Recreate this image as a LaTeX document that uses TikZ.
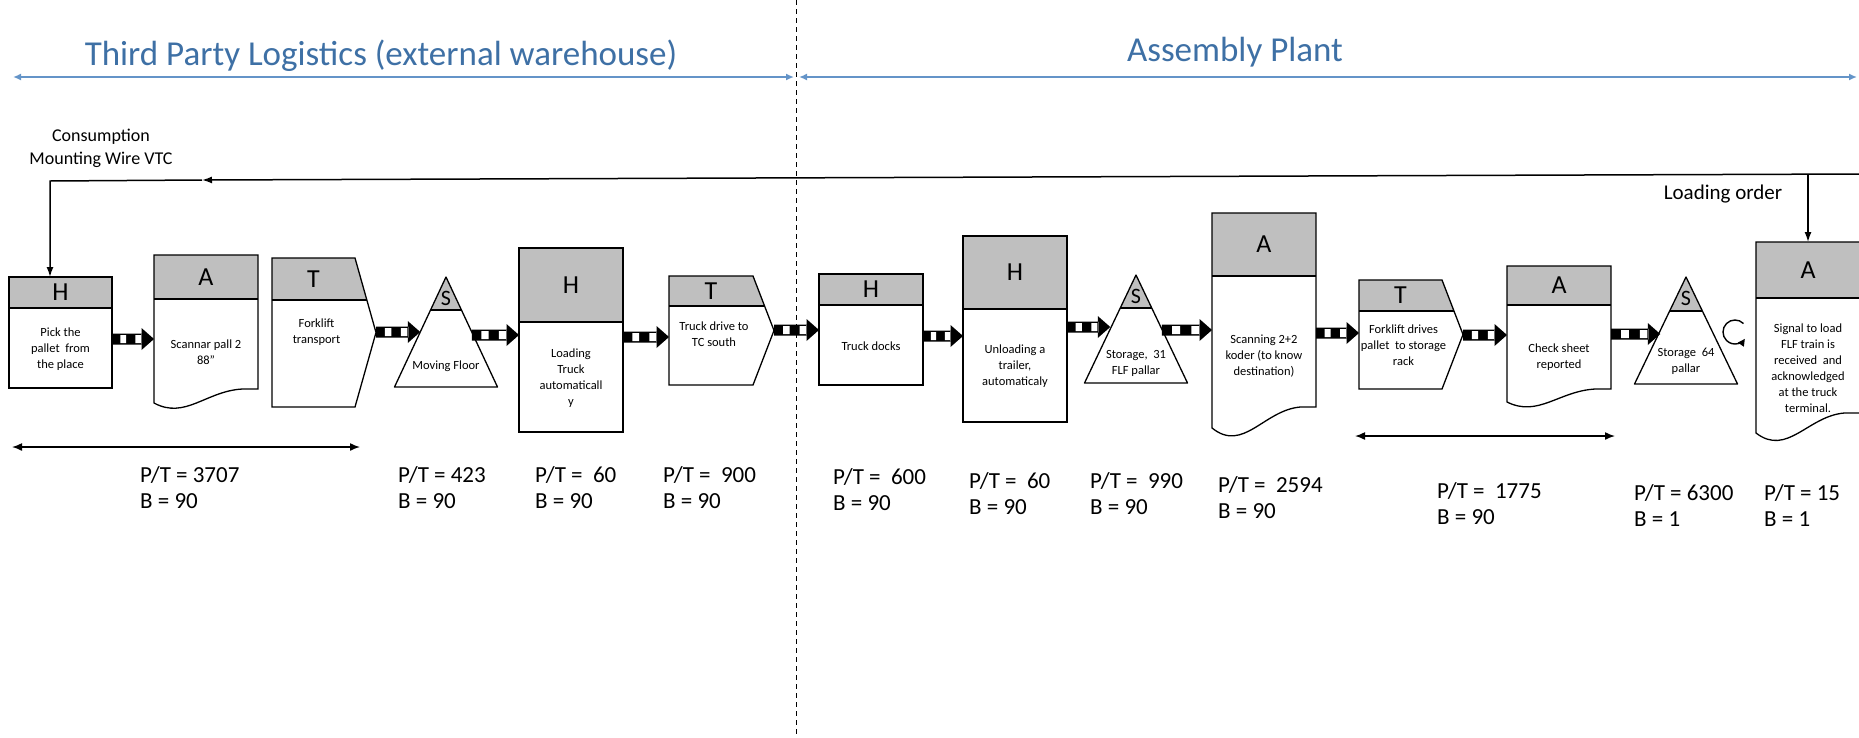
\documentclass[tikz,border=0pt]{standalone}
\usepackage{fontspec}
\setmainfont{Carlito}
\usetikzlibrary{arrows.meta,calc}
\definecolor{hdr}{RGB}{191,191,191}
\definecolor{ttl}{RGB}{62,112,165}
\definecolor{bln}{RGB}{100,148,200}
\tikzset{
  box/.style={draw=black,line width=1.3pt,line join=miter},
  tribox/.style={draw=black,line width=1.3pt,line join=round},
  letter/.style={font=\fontsize{26}{30}\selectfont,inner sep=0pt},
  sletter/.style={font=\fontsize{22}{26}\selectfont,inner sep=0pt},
  body/.style={font=\fontsize{12.5}{16}\selectfont,align=center,inner sep=0pt},
  ptlabel/.style={font=\fontsize{23}{26}\selectfont,align=left,anchor=west,inner sep=0pt},
  titletext/.style={font=\fontsize{35}{42}\selectfont,text=ttl,inner sep=0pt},
  blarr/.style={draw=bln,line width=1.8pt,{Latex[length=8pt,width=7pt]}-{Latex[length=8pt,width=7pt]}},
  fbarr/.style={draw=black,line width=1.5pt,-{Latex[length=10pt,width=7pt]}},
  dimarr/.style={draw=black,line width=1.5pt,{Latex[length=10pt,width=8pt]}-{Latex[length=10pt,width=8pt]}},
}
% rectangle box: name, x1, x2, top, header bottom, bottom, letter, text
\newcommand\vsmRect[8]{%
  \fill[hdr] (#2,#4) rectangle (#3,#5);
  \draw[box] (#2,#4) rectangle (#3,#6) (#2,#5) -- (#3,#5);
  \node[letter] (#1-h) at ({(#2+#3)/2},{(#4+#5)/2}) {#7};
  \node[body] (#1) at ({(#2+#3)/2},{(#5+#6)/2+1}) {#8};
  \coordinate (#1-w) at (#2,{(#5+#6)/2});
  \coordinate (#1-e) at (#3,{(#5+#6)/2});
  \coordinate (#1-n) at ({(#2+#3)/2},#4);
}
% document box: name, x1, x2, top, header bottom, right bottom, wave offset, text, text y
\newcommand\vsmDoc[9]{%
  \fill[hdr] (#2,#4) rectangle (#3,#5);
  \draw[box] (#2,#4) -- (#3,#4) -- (#3,#6) -- ({#2+0.85*(#3-#2)},#6)
    .. controls ({#2+0.5*(#3-#2)},{#6+#7/7}) and ({#2+0.3*(#3-#2)},{#6+2.2*#7}) .. (#2,{#6+#7}) -- cycle;
  \draw[box] (#2,#5) -- (#3,#5);
  \node[letter] (#1-h) at ({(#2+#3)/2},{(#4+#5)/2}) {A};
  \node[body] (#1) at ({(#2+#3)/2},#9) {#8};
  \coordinate (#1-w) at (#2,{(#5+#6)/2});
  \coordinate (#1-e) at (#3,{(#5+#6)/2});
  \coordinate (#1-n) at ({(#2+#3)/2},#4);
}
% transport box: name, x1, x2, top, header bottom, bottom, text, text y
\newcommand\vsmT[8]{%
  \pgfmathsetmacro\tmid{(#4+#6)/2}%
  \pgfmathsetmacro\thx{#3+21*(#5-#4)/(\tmid-#4)}%
  \fill[hdr] (#2,#4) -- (#3,#4) -- (\thx,#5) -- (#2,#5) -- cycle;
  \draw[box] (#2,#4) -- (#3,#4) -- ({#3+21},\tmid) -- (#3,#6) -- (#2,#6) -- cycle;
  \draw[box] (#2,#5) -- (\thx,#5);
  \node[letter] (#1-h) at ({(#2+#3)/2},{(#4+#5)/2}) {T};
  \node[body] (#1) at ({(#2+#3)/2+3},#8) {#7};
  \coordinate (#1-w) at (#2,\tmid);
  \coordinate (#1-e) at ({#3+21},\tmid);
}
% storage triangle: name, apex x, apex y, base y, half width, header y, text, text y
\newcommand\vsmS[8]{%
  \pgfmathsetmacro\shw{#5*(#6-#3)/(#4-#3)}%
  \fill[hdr] (#2,#3) -- ({#2+\shw},#6) -- ({#2-\shw},#6) -- cycle;
  \draw[tribox] (#2,#3) -- ({#2+#5},#4) -- ({#2-#5},#4) -- cycle;
  \draw[box] ({#2-\shw},#6) -- ({#2+\shw},#6);
  \node[sletter] (#1-h) at (#2,{#3+0.64*(#6-#3)}) {S};
  \node[body] (#1) at (#2,#8) {#7};
  \coordinate (#1-w) at ({#2-#5/2},{(#3+#4)/2});
  \coordinate (#1-e) at ({#2+#5/2},{(#3+#4)/2});
}
% push arrow: from, to, y
\newcommand\pusharr[3]{%
  \fill[black] let \p1=(#1), \p2=(#2) in
    (\x1,{-#3pt-5.5pt}) rectangle ({\x2-12pt},{-#3pt+5.5pt})
    ({\x2-12.5pt},{-#3pt-11pt}) -- (\x2,{-#3pt}) -- ({\x2-12.5pt},{-#3pt+11pt}) -- cycle;
  \fill[white] let \p1=(#1), \p2=(#2), \n1={(\x2-\x1-12pt)/4} in
    ({\x1+\n1+0.8pt},{-#3pt-4pt}) rectangle ({\x1+2*\n1-0.8pt},{-#3pt+4pt})
    ({\x1+3*\n1+0.8pt},{-#3pt-4pt}) rectangle ({\x2-12.8pt},{-#3pt+4pt});
}
\begin{document}
\begin{tikzpicture}[x=1pt,y=-1pt]
\useasboundingbox (0,0) rectangle (1859,737);

% titles and region arrows
\node[titletext] (t1) at (381,56) {Third Party Logistics (external warehouse)};
\node[titletext] (t2) at (1235,52) {Assembly Plant};
\coordinate (bl1) at (13,77);
\coordinate (bl2) at (794,77);
\coordinate (bl3) at (799,77);
\coordinate (bl4) at (1857,77);
\draw[blarr] (bl1) -- (bl2);
\draw[blarr] (bl3) -- (bl4);

% divider
\coordinate (dv1) at (796,0);
\coordinate (dv2) at (796,737);
\draw[black,line width=1pt,dash pattern=on 5pt off 4pt] (dv1) -- (dv2);

% boxes
\vsmRect{b1}{9}{112}{277}{308}{388}{H}{Pick the\\pallet\ \ from\\the place}
\vsmDoc{b2}{154}{258}{255}{299}{389}{14}{Scannar pall 2\\88"}{352}
\vsmT{b3}{272}{355}{258}{300}{407}{Forklift\\transport}{332}
\vsmS{s1}{446}{277}{387}{51.5}{310}{Moving Floor}{366}
\vsmRect{b4}{519}{623}{248}{322}{432}{H}{Loading\\Truck\\automaticall\\y}
\vsmT{b5}{669}{753}{276}{306}{385}{Truck drive to\\TC south}{334}
\vsmRect{b6}{819}{923}{274}{305}{385}{H}{Truck docks}
\vsmRect{b7}{963}{1067}{236}{309}{422}{H}{Unloading a\\trailer,\\automaticaly}
\vsmS{s2}{1136}{275}{383}{51.5}{308}{Storage,\ \ 31\\FLF pallar}{363}
\vsmDoc{b8}{1212}{1316}{213}{276}{407}{21}{Scanning 2+2\\koder (to know\\destination)}{356}
\vsmT{b9}{1359}{1442}{280}{311}{389}{Forklift drives\\pallet\ \ to storage\\rack}{345}
\vsmDoc{b10}{1507}{1611}{266}{305}{389}{13}{Check sheet\\reported}{357}
\vsmS{s3}{1686}{277}{384}{51.5}{311}{Storage\ \ 64\\pallar}{361}
\vsmDoc{b11}{1756}{1860}{242}{298}{413}{20}{Signal to load\\FLF train is\\received\ \ and\\acknowledged\\at the truck\\terminal.}{368}

% push arrows
\pusharr{b1-e}{b2-w}{339}
\pusharr{b3-e}{s1-w}{332}
\pusharr{s1-e}{b4-w}{335}
\pusharr{b4-e}{b5-w}{337}
\pusharr{b5-e}{b6-w}{330}
\pusharr{b6-e}{b7-w}{336}
\pusharr{b7-e}{s2-w}{327}
\pusharr{s2-e}{b8-w}{330}
\pusharr{b8-e}{b9-w}{333}
\pusharr{b9-e}{b10-w}{335}
\pusharr{b10-e}{s3-w}{334}

% withdrawal / circular arrow
\begin{scope}[shift={(1735,332)},x=1pt,y=1pt]
  \draw[line width=1.4pt,-{Triangle[length=7pt,width=7pt]}] (45:12) arc[start angle=45,end angle=325,radius=12];
\end{scope}

% information flow
\node[font=\fontsize{18}{23}\selectfont,align=center,inner sep=0pt] (cons) at (101,148) {Consumption\\Mounting Wire VTC};
\node[font=\fontsize{21}{25}\selectfont,inner sep=0pt] (lord) at (1723,194) {Loading order};
\coordinate (fbr) at (1859,174);
\coordinate (fbm) at (202,180);
\coordinate (fbl) at (50,181);
\coordinate (lo) at (1808,175);
\draw[fbarr] (fbr) -- (fbm);
\draw[fbarr] (fbm) -- (fbl) -- (fbl |- b1-n);
\draw[fbarr] (lo) -- (lo |- b11-n);

% lead time arrows
\coordinate (da1) at (12,447);
\coordinate (da2) at (360,447);
\coordinate (da3) at (1355,436);
\coordinate (da4) at (1615,436);
\draw[dimarr] (da1) -- (da2);
\draw[dimarr] (da3) -- (da4);

% P/T labels
\node[ptlabel] (pt1) at (140,488) {P/T = 3707\\B = 90};
\node[ptlabel] (pt2) at (398,488) {P/T = 423\\B = 90};
\node[ptlabel] (pt3) at (535,488) {P/T = \ 60\\B = 90};
\node[ptlabel] (pt4) at (663,488) {P/T = \ 900\\B = 90};
\node[ptlabel] (pt5) at (833,490) {P/T = \ 600\\B = 90};
\node[ptlabel] (pt6) at (969,493.5) {P/T = \ 60\\B = 90};
\node[ptlabel] (pt7) at (1090,493.5) {P/T = \ 990\\B = 90};
\node[ptlabel] (pt8) at (1218,498) {P/T = \ 2594\\B = 90};
\node[ptlabel] (pt9) at (1437,504) {P/T = \ 1775\\B = 90};
\node[ptlabel] (pt10) at (1634,506) {P/T = 6300\\B = 1};
\node[ptlabel] (pt11) at (1764,506) {P/T = 15\\B = 1};
\end{tikzpicture}
\end{document}
